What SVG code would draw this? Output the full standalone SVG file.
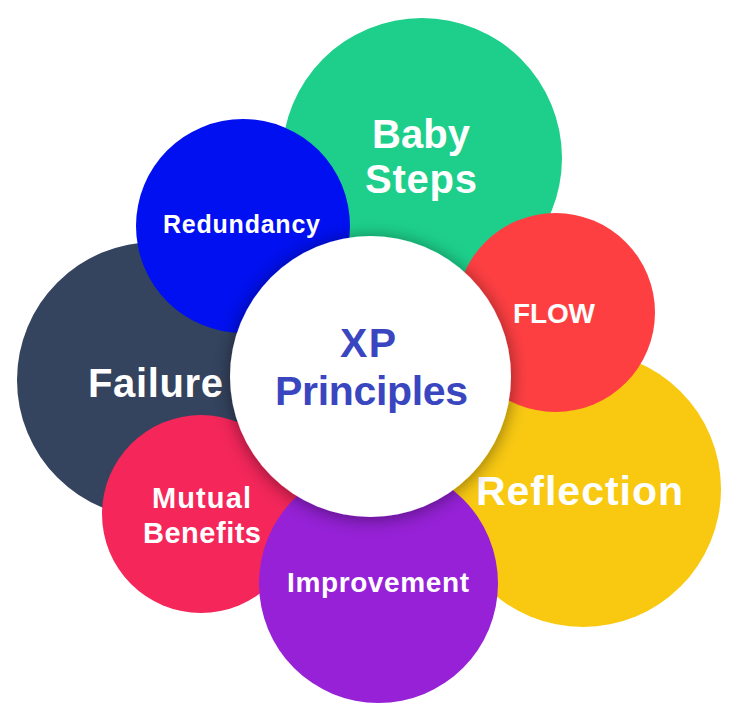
<svg xmlns="http://www.w3.org/2000/svg" width="737" height="728" viewBox="0 0 737 728">
<style>
.lbl{font-family:"Liberation Sans",Arial,sans-serif;font-weight:700;fill:#ffffff;text-anchor:middle}
.ctr{font-family:"Liberation Sans",Arial,sans-serif;font-weight:700;fill:#3A46BF;text-anchor:middle}
</style>
<defs>
<filter id="shadow" x="-30%" y="-30%" width="160%" height="160%">
<feDropShadow dx="0" dy="2" stdDeviation="9" flood-color="#000" flood-opacity="0.45"/>
</filter>
</defs>
<rect width="737" height="728" fill="#ffffff"/>
<g id="failure">
<circle cx="155" cy="380" r="138" fill="#34435E"/>
<text class="lbl" x="155.5" y="397" font-size="40" textLength="135">Failure</text>
</g>
<g id="baby-steps">
<circle cx="422" cy="158" r="140" fill="#1DCF8B"/>
<text class="lbl" x="421" y="148" font-size="40" textLength="98">Baby</text>
<text class="lbl" x="421" y="193" font-size="40" textLength="112">Steps</text>
</g>
<g id="reflection">
<circle cx="583" cy="489" r="138" fill="#F9C912"/>
<text class="lbl" x="579.5" y="505" font-size="41" textLength="207">Reflection</text>
</g>
<g id="redundancy">
<circle cx="243" cy="226" r="107" fill="#0010F0"/>
<text class="lbl" x="241.5" y="233" font-size="25" textLength="157">Redundancy</text>
</g>
<g id="flow">
<circle cx="555.5" cy="312.5" r="99.5" fill="#FE3F42"/>
<text class="lbl" x="554" y="323" font-size="28" textLength="82">FLOW</text>
</g>
<g id="mutual-benefits">
<circle cx="201" cy="514" r="99" fill="#F4265A"/>
<text class="lbl" x="201.5" y="508" font-size="29" textLength="99">Mutual</text>
<text class="lbl" x="202" y="543" font-size="29" textLength="118">Benefits</text>
</g>
<g id="improvement">
<circle cx="378.5" cy="583.5" r="119.5" fill="#9621D7"/>
<text class="lbl" x="378" y="592" font-size="28" textLength="182">Improvement</text>
</g>
<g id="xp-principles">
<circle cx="370.5" cy="376.5" r="140.5" fill="#ffffff" filter="url(#shadow)"/>
<text class="ctr" x="368" y="357" font-size="41" textLength="56">XP</text>
<text class="ctr" x="371.5" y="405" font-size="41" textLength="193">Principles</text>
</g>
<g id="connectors"></g>
</svg>
